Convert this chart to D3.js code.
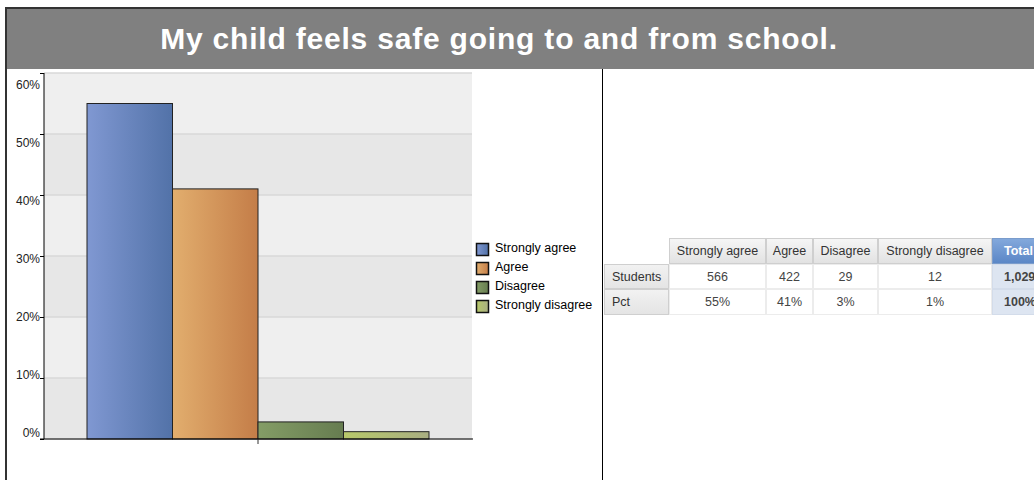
<!DOCTYPE html>
<html>
<head>
<meta charset="utf-8">
<script src="https://cdn.jsdelivr.net/npm/d3@7"></script>
<style>
  body { margin: 0; background: #fff; overflow: hidden; }
  text { font-family: "Liberation Sans", Arial, sans-serif; }
</style>
</head>
<body>
<div id="chart"></div>
<script>
var title = "My child feels safe going to and from school.";
var categories = ["Strongly agree", "Agree", "Disagree", "Strongly disagree"];
var pctValues = [55.0, 41.0, 2.8, 1.2];
var studentCounts = ["566", "422", "29", "12"];
var pctLabels = ["55%", "41%", "3%", "1%"];
var totalLabels = ["1,029", "100%"];
var rowLabels = ["Students", "Pct"];
var yTicks = [0, 10, 20, 30, 40, 50, 60];

// gradient pairs (left, right) for each bar
var barColors = [
  ["#8098d2", "#5272a8"],
  ["#e2ae6e", "#c47d48"],
  ["#849d66", "#667c50"],
  ["#b8c96a", "#a9ae82"]
];

var W = 1034, H = 480;

var svg = d3.select("#chart").append("svg")
  .attr("width", W)
  .attr("height", H);

var defs = svg.append("defs");

barColors.forEach(function(c, i) {
  var g = defs.append("linearGradient")
    .attr("id", "bar" + i)
    .attr("x1", "0%").attr("x2", "100%").attr("y1", "0%").attr("y2", "0%");
  g.append("stop").attr("offset", "0%").attr("stop-color", c[0]);
  g.append("stop").attr("offset", "100%").attr("stop-color", c[1]);
});

function vGrad(id, top, bottom) {
  var g = defs.append("linearGradient")
    .attr("id", id)
    .attr("x1", "0%").attr("x2", "0%").attr("y1", "0%").attr("y2", "100%");
  g.append("stop").attr("offset", "0%").attr("stop-color", top);
  g.append("stop").attr("offset", "100%").attr("stop-color", bottom);
}
vGrad("headGrad", "#f6f6f6", "#e2e2e2");
vGrad("rowGrad", "#f2f2f2", "#e4e4e4");
vGrad("totalGrad", "#84a9dc", "#5a86c6");

// outer frame + title band
svg.append("rect")
  .attr("x", 6).attr("y", 8)
  .attr("width", W + 20).attr("height", H + 20)
  .attr("fill", "#fff")
  .attr("stroke", "#333")
  .attr("stroke-width", 2);

svg.append("rect")
  .attr("x", 7).attr("y", 9)
  .attr("width", W).attr("height", 60)
  .attr("fill", "#808080");

svg.append("text")
  .attr("x", 499).attr("y", 49)
  .attr("text-anchor", "middle")
  .attr("fill", "#fff")
  .style("font-size", "30px")
  .style("font-weight", "bold")
  .style("letter-spacing", "0.8px")
  .text(title);

// divider between chart and table
svg.append("line")
  .attr("x1", 602.5).attr("x2", 602.5)
  .attr("y1", 69).attr("y2", H)
  .attr("stroke", "#000")
  .attr("stroke-width", 1);

// ---- bar chart ----
var plot = { left: 44, right: 472, top: 73, bottom: 439 };

var x = d3.scaleBand()
  .domain(categories)
  .range([plot.left + 43, plot.right - 43])
  .padding(0);

var y = d3.scaleLinear()
  .domain([0, 60])
  .range([plot.bottom, plot.top]);

// labels in the original drift slightly from their ticks
var yLabel = d3.scaleLinear()
  .domain([0, 60])
  .range([plot.bottom - 6, plot.top + 12]);

var chart = svg.append("g");

// alternating bands
chart.selectAll("rect.band")
  .data(yTicks.slice(0, -1))
  .enter()
  .append("rect")
  .attr("class", "band")
  .attr("x", plot.left)
  .attr("y", function(d) { return y(d + 10); })
  .attr("width", plot.right - plot.left)
  .attr("height", function(d) { return y(d) - y(d + 10); })
  .attr("fill", function(d, i) { return i % 2 === 0 ? "#e7e7e7" : "#efefef"; });

// grid lines
chart.selectAll("line.grid")
  .data(yTicks)
  .enter()
  .append("line")
  .attr("class", "grid")
  .attr("x1", plot.left).attr("x2", plot.right)
  .attr("y1", function(d) { return y(d); })
  .attr("y2", function(d) { return y(d); })
  .attr("stroke", "#d9d9d9")
  .attr("stroke-width", 1.5);

// bars
chart.selectAll("rect.bar")
  .data(pctValues)
  .enter()
  .append("rect")
  .attr("class", "bar")
  .attr("x", function(d, i) { return x(categories[i]); })
  .attr("y", function(d) { return y(d); })
  .attr("width", x.bandwidth())
  .attr("height", function(d) { return plot.bottom - y(d); })
  .attr("fill", function(d, i) { return "url(#bar" + i + ")"; })
  .attr("stroke", "#222")
  .attr("stroke-width", 1);

// y axis
var yAxis = d3.axisLeft(y)
  .tickValues(yTicks)
  .tickSize(4)
  .tickFormat("");

var yAxisG = chart.append("g")
  .attr("transform", "translate(" + plot.left + ",0)")
  .call(yAxis);
yAxisG.select(".domain").attr("stroke", "#000").attr("d", "M0," + plot.top + "V" + plot.bottom);
yAxisG.selectAll(".tick line").attr("stroke", "#000");

chart.selectAll("text.ylab")
  .data(yTicks)
  .enter()
  .append("text")
  .attr("class", "ylab")
  .attr("x", plot.left - 4)
  .attr("y", function(d) { return yLabel(d); })
  .attr("dy", "0.35em")
  .attr("text-anchor", "end")
  .attr("fill", "#222")
  .style("font-size", "12px")
  .text(function(d) { return d + "%"; });

// x axis: baseline with one center tick
chart.append("line")
  .attr("x1", plot.left - 4).attr("x2", plot.right + 1)
  .attr("y1", plot.bottom).attr("y2", plot.bottom)
  .attr("stroke", "#000");
chart.append("line")
  .attr("x1", x("Disagree")).attr("x2", x("Disagree"))
  .attr("y1", plot.bottom).attr("y2", plot.bottom + 5)
  .attr("stroke", "#333");

// legend
var legend = svg.append("g")
  .attr("transform", "translate(476,243)");

var legendItem = legend.selectAll("g")
  .data(categories)
  .enter()
  .append("g")
  .attr("transform", function(d, i) { return "translate(0," + (i * 19) + ")"; });

legendItem.append("rect")
  .attr("x", 0.5).attr("y", 0.5)
  .attr("width", 12).attr("height", 12)
  .attr("fill", function(d, i) { return "url(#bar" + i + ")"; })
  .attr("stroke", "#111")
  .attr("stroke-width", 1.5);

legendItem.append("text")
  .attr("x", 19)
  .attr("y", 5)
  .attr("dy", "0.35em")
  .attr("fill", "#000")
  .style("font-size", "12.5px")
  .text(function(d) { return d; });

// ---- table ----
var colEdges = [604, 669, 766, 813, 878, 992, 1060];
var rowEdges = [238, 264, 289, 315];
var headers = categories.concat(["Total"]);

var table = svg.append("g").style("font-size", "12.5px");

// header row
headers.forEach(function(h, i) {
  var x0 = colEdges[i + 1], x1 = colEdges[i + 2];
  var isTotal = h === "Total";
  table.append("rect")
    .attr("x", x0 + 0.5).attr("y", rowEdges[0] + 0.5)
    .attr("width", x1 - x0 - 1).attr("height", rowEdges[1] - rowEdges[0] - 1)
    .attr("fill", isTotal ? "url(#totalGrad)" : "url(#headGrad)")
    .attr("stroke", isTotal ? "#7a9ccc" : "#cfcfcf");
  table.append("text")
    .attr("x", isTotal ? x0 + 12 : (x0 + x1) / 2)
    .attr("y", (rowEdges[0] + rowEdges[1]) / 2)
    .attr("dy", "0.35em")
    .attr("text-anchor", isTotal ? "start" : "middle")
    .attr("fill", isTotal ? "#fff" : "#333")
    .style("font-weight", isTotal ? "bold" : "normal")
    .text(h);
});

var rows = [studentCounts.concat([totalLabels[0]]), pctLabels.concat([totalLabels[1]])];

rows.forEach(function(row, r) {
  var y0 = rowEdges[r + 1], y1 = rowEdges[r + 2];
  table.append("rect")
    .attr("x", colEdges[0] + 0.5).attr("y", y0 + 0.5)
    .attr("width", colEdges[1] - colEdges[0] - 1).attr("height", y1 - y0 - 1)
    .attr("fill", "url(#rowGrad)")
    .attr("stroke", "#cfcfcf");
  table.append("text")
    .attr("x", colEdges[0] + 8)
    .attr("y", (y0 + y1) / 2)
    .attr("dy", "0.35em")
    .attr("fill", "#333")
    .text(rowLabels[r]);

  row.forEach(function(v, i) {
    var x0 = colEdges[i + 1], x1 = colEdges[i + 2];
    var isTotal = i === row.length - 1;
    table.append("rect")
      .attr("x", x0 + 0.5).attr("y", y0 + 0.5)
      .attr("width", x1 - x0 - 1).attr("height", y1 - y0 - 1)
      .attr("fill", isTotal ? "#dde5f1" : "#fff")
      .attr("stroke", isTotal ? "#d3dcea" : "#ececec");
    table.append("text")
      .attr("x", isTotal ? x0 + 12 : (x0 + x1) / 2)
      .attr("y", (y0 + y1) / 2)
      .attr("dy", "0.35em")
      .attr("text-anchor", isTotal ? "start" : "middle")
      .attr("fill", "#444")
      .style("font-weight", isTotal ? "bold" : "normal")
      .text(v);
  });
});
</script>
</body>
</html>
